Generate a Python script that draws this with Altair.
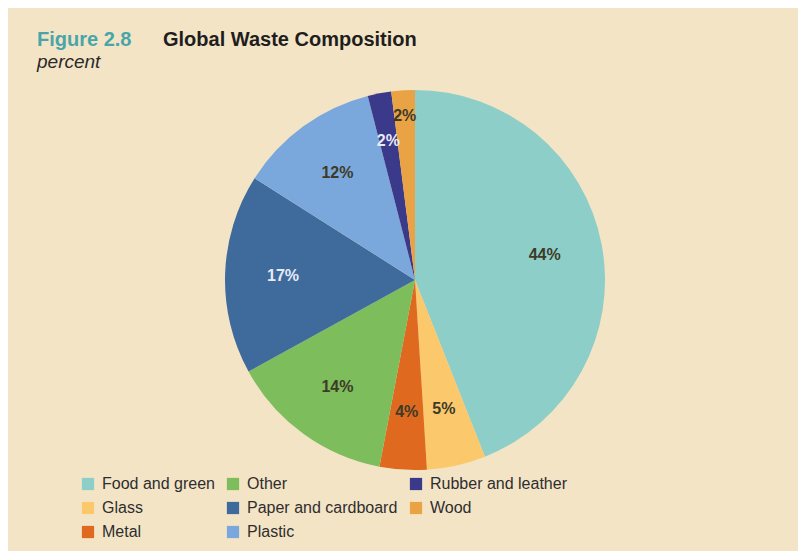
import altair as alt
import pandas as pd

categories = ["Food and green", "Glass", "Metal", "Other", "Paper and cardboard",
              "Plastic", "Rubber and leather", "Wood"]
values = [44, 5, 4, 14, 17, 12, 2, 2]
labels = ["44%", "5%", "4%", "14%", "17%", "12%", "2%", "2%"]
colors = ["#8ecec8", "#fbc86c", "#df6a1f", "#7dbd5c",
          "#3f6a9c", "#7ba8dc", "#3b3a8a", "#e9a345"]
light_labels = ["Paper and cardboard", "Rubber and leather"]

df = pd.DataFrame({"category": categories, "value": values,
                   "label": labels, "idx": list(range(len(categories)))})

CX, CY, R = 407, 272, 190

base = alt.Chart(df).encode(
    theta=alt.Theta("value:Q", stack=True),
    order=alt.Order("idx:Q"),
    x=alt.value(CX), y=alt.value(CY),
)

pie = base.mark_arc(outerRadius=R, stroke=None).encode(
    color=alt.Color("category:N",
                    scale=alt.Scale(domain=categories, range=colors),
                    legend=alt.Legend(title=None, orient="none", legendX=72, legendY=468,
                                      columns=3, columnPadding=10, rowPadding=8,
                                      symbolType="square", symbolSize=150,
                                      symbolStrokeWidth=0, labelFontSize=16,
                                      labelFont="Liberation Sans", labelColor="#2e2e2e",
                                      labelOffset=6, padding=0))
)

def label_layer(radius, cats):
    return base.mark_text(radius=radius, fontSize=16, fontWeight="bold",
                          font="Liberation Sans").encode(
        text="label:N",
        color=alt.condition(alt.FieldOneOfPredicate(field="category", oneOf=light_labels),
                            alt.value("#e6ecf5"), alt.value("#3d3a28")),
        opacity=alt.condition(alt.FieldOneOfPredicate(field="category", oneOf=cats),
                              alt.value(1), alt.value(0)),
    )

text_main = label_layer(132, categories[:6])
text_rubber = label_layer(142, ["Rubber and leather"])
text_wood = label_layer(164, ["Wood"])

t1 = alt.Chart(pd.DataFrame({"t": ["Figure 2.8"]})).mark_text(
    align="left", baseline="alphabetic", fontSize=20, fontWeight="bold",
    font="Liberation Sans", color="#4aa5a9").encode(
    text="t:N", x=alt.value(29), y=alt.value(38))
t2 = alt.Chart(pd.DataFrame({"t": ["Global Waste Composition"]})).mark_text(
    align="left", baseline="alphabetic", fontSize=20, fontWeight="bold",
    font="Liberation Sans", color="#1e1e1e").encode(
    text="t:N", x=alt.value(155), y=alt.value(38))
t3 = alt.Chart(pd.DataFrame({"t": ["percent"]})).mark_text(
    align="left", baseline="alphabetic", fontSize=19, fontStyle="italic",
    font="Liberation Sans", color="#2a2a2a").encode(
    text="t:N", x=alt.value(29), y=alt.value(60))

chart = alt.layer(pie, text_main, text_rubber, text_wood, t1, t2, t3).properties(
    width=790, height=543, padding=0,
    autosize=alt.AutoSizeParams(type="none"),
    background="#f4e4c6",
).configure_view(stroke=None)

chart.save("out.html", embed_options={"renderer": "svg", "actions": False})
